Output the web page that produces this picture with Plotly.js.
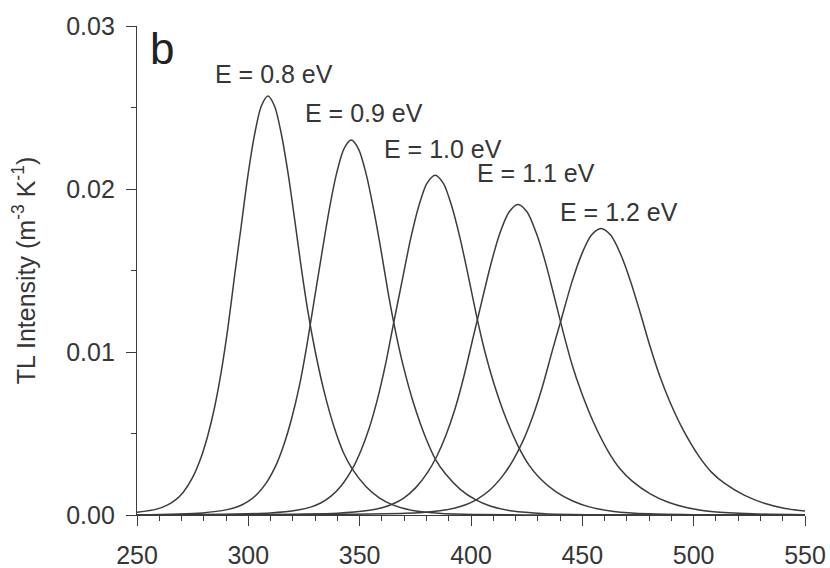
<!DOCTYPE html>
<html>
<head>
<meta charset="utf-8">
<script src="https://cdn.plot.ly/plotly-3.0.1.min.js"></script>
<style>
  html, body { margin: 0; padding: 0; background: #ffffff; }
  #chart { width: 830px; height: 568px; }
</style>
</head>
<body>
<div id="chart"></div>
<script>
// ---- data ----
const tempE08 = [250, 258.8, 263.8, 267.3, 270.8, 274.8, 278.8, 281.8, 284.8, 287.8, 290.8, 293.8, 296.8, 299.8, 302.8, 305.8, 308.8, 311.8, 314.8, 317.8, 320.8, 323.8, 326.8, 329.8, 333.8, 338.8, 342.8, 346.8, 352.8, 358.8, 364.8, 373.8, 386.8, 403.8, 428.8, 550];
const tlE08 = [0.00017, 0.00036, 0.00062, 0.00093, 0.0014, 0.00226, 0.00355, 0.00488, 0.00658, 0.00876, 0.01146, 0.01465, 0.01773, 0.02082, 0.02334, 0.02508, 0.0257, 0.02508, 0.02339, 0.0210, 0.01814, 0.01514, 0.01244, 0.0102, 0.00771, 0.00527, 0.0038, 0.0028, 0.00175, 0.00105, 0.00062, 0.00027, 0.00009, 0.00003, 0.000005, 0];

const tempE09 = [250, 279.3, 290.5, 296.0, 299.9, 303.8, 308.3, 312.8, 316.1, 319.4, 322.8, 326.1, 329.5, 332.8, 336.2, 339.5, 342.9, 346.2, 349.5, 352.9, 356.2, 359.6, 362.9, 366.3, 369.6, 374.1, 379.7, 384.1, 388.6, 395.3, 402.0, 408.6, 418.7, 433.2, 452.1, 480.0, 550];
const tlE09 = [0, 0.00013, 0.00033, 0.00055, 0.00083, 0.00126, 0.00202, 0.00317, 0.00437, 0.00589, 0.00784, 0.01026, 0.01311, 0.01587, 0.01863, 0.02088, 0.02245, 0.0230, 0.02245, 0.02093, 0.01879, 0.01624, 0.01355, 0.01113, 0.00913, 0.0069, 0.00472, 0.0034, 0.00251, 0.00156, 0.00094, 0.00055, 0.00024, 0.00008, 0.00002, 0.000005, 0];

const tempE10 = [250, 309.8, 322.2, 328.3, 332.7, 337.0, 341.9, 346.9, 350.6, 354.3, 358.0, 361.7, 365.4, 369.1, 372.8, 376.5, 380.2, 383.9, 387.6, 391.3, 395.0, 398.7, 402.4, 406.1, 409.8, 414.8, 421.0, 425.9, 430.8, 438.2, 445.7, 453.1, 464.2, 480.2, 501.2, 532.1, 550];
const tlE10 = [0, 0.00012, 0.0003, 0.0005, 0.00075, 0.00114, 0.00183, 0.00288, 0.00396, 0.00534, 0.00711, 0.0093, 0.01188, 0.01439, 0.01689, 0.01893, 0.02035, 0.02085, 0.02035, 0.01897, 0.01703, 0.01472, 0.01228, 0.01009, 0.00828, 0.00626, 0.00427, 0.00309, 0.00227, 0.00142, 0.00086, 0.0005, 0.00022, 0.00007, 0.00002, 0.000004, 0];

const tempE11 = [250, 340.1, 353.6, 360.4, 365.1, 369.8, 375.2, 380.6, 384.7, 388.7, 392.8, 396.8, 400.9, 404.9, 409.0, 413.0, 417.1, 421.1, 425.2, 429.2, 433.3, 437.3, 441.4, 445.4, 449.5, 454.9, 461.6, 467.0, 472.4, 480.5, 488.6, 496.7, 508.9, 526.4, 550];
const tlE11 = [0, 0.00011, 0.00027, 0.00046, 0.00069, 0.00104, 0.00168, 0.00263, 0.00362, 0.00488, 0.0065, 0.0085, 0.01086, 0.01314, 0.01543, 0.0173, 0.01859, 0.01905, 0.01859, 0.01734, 0.01556, 0.01345, 0.01122, 0.00922, 0.00756, 0.00572, 0.00391, 0.00282, 0.00208, 0.0013, 0.00078, 0.00046, 0.0002, 0.00007, 0.00002];

const tempE12 = [250, 370.4, 385.1, 392.4, 397.6, 402.7, 408.6, 414.4, 418.8, 423.2, 427.6, 432.0, 436.4, 440.8, 445.2, 449.6, 454.0, 458.4, 462.8, 467.2, 471.6, 476.0, 480.4, 484.8, 489.2, 495.1, 502.4, 508.2, 514.1, 522.9, 531.7, 540.5, 553.7];
const tlE12 = [0, 0.0001, 0.00025, 0.00042, 0.00063, 0.00096, 0.00155, 0.00243, 0.00334, 0.0045, 0.006, 0.00784, 0.01002, 0.01213, 0.01424, 0.01596, 0.01716, 0.01758, 0.01716, 0.016, 0.01436, 0.01241, 0.01035, 0.00851, 0.00698, 0.00527, 0.0036, 0.0026, 0.00192, 0.0012, 0.00072, 0.00042, 0.00018];

const energyLabels = ['E = 0.8 eV', 'E = 0.9 eV', 'E = 1.0 eV', 'E = 1.1 eV', 'E = 1.2 eV'];
const xTickVals = [250, 300, 350, 400, 450, 500, 550];
const yTickVals = [0, 0.01, 0.02, 0.03];
const yTickText = ['0.00', '0.01', '0.02', '0.03'];
const panelLetter = 'b';
const yTitleText = 'TL Intensity (m<sup>-3</sup> K<sup>-1</sup>)';

// ---- presentation ----
const labelX = [311.5, 352.0, 387.5, 429.2, 466.5];
const labelY = [0.02706, 0.02466, 0.02245, 0.02098, 0.01859];

const FONT = 'Liberation Sans, Arial, Helvetica, sans-serif';
const INK = '#363636';
const LINE = '#3c3c3c';

const series = [
  [tempE08, tlE08], [tempE09, tlE09], [tempE10, tlE10], [tempE11, tlE11], [tempE12, tlE12]
];

const traces = series.map((s, i) => ({
  type: 'scatter',
  mode: 'lines',
  x: s[0],
  y: s[1],
  name: energyLabels[i],
  line: { color: LINE, width: 1.5, shape: 'spline', smoothing: 0.8 },
  hoverinfo: 'x+y+name'
}));

const annotations = energyLabels.map((t, i) => ({
  xref: 'x', yref: 'y',
  x: labelX[i], y: labelY[i],
  text: t,
  showarrow: false,
  xanchor: 'center', yanchor: 'middle',
  font: { family: FONT, size: 25, color: INK }
}));

annotations.push({
  xref: 'x', yref: 'y',
  x: 261.2, y: 0.02865,
  text: panelLetter,
  showarrow: false,
  xanchor: 'center', yanchor: 'middle',
  font: { family: FONT, size: 44, color: '#222' }
});

const layout = {
  width: 830, height: 568,
  paper_bgcolor: '#ffffff', plot_bgcolor: '#ffffff',
  showlegend: false,
  margin: { l: 137, r: 25, t: 26, b: 53, pad: 0 },
  font: { family: FONT, color: INK },
  xaxis: {
    range: [250, 550],
    tickvals: xTickVals,
    ticks: 'outside', ticklen: 10, tickwidth: 1.3, tickcolor: LINE,
    ticklabelstandoff: 8,
    showline: true, linecolor: LINE, linewidth: 1.3,
    showgrid: false, zeroline: false,
    tickfont: { family: FONT, size: 25, color: INK },
    minor: { dtick: 10, ticks: 'outside', ticklen: 5, tickwidth: 1.2, tickcolor: LINE, showgrid: false }
  },
  yaxis: {
    range: [0, 0.03],
    tickvals: yTickVals, ticktext: yTickText,
    ticks: 'outside', ticklen: 10, tickwidth: 1.3, tickcolor: LINE,
    ticklabelstandoff: 6,
    showline: true, linecolor: LINE, linewidth: 1.3,
    showgrid: false, zeroline: false,
    tickfont: { family: FONT, size: 25, color: INK },
    minor: { dtick: 0.005, ticks: 'outside', ticklen: 5, tickwidth: 1.2, tickcolor: LINE, showgrid: false },
    title: { text: yTitleText, font: { family: FONT, size: 25, color: INK }, standoff: 23 }
  },
  annotations: annotations
};

Plotly.newPlot('chart', traces, layout, { displayModeBar: false, staticPlot: false });
</script>
</body>
</html>
